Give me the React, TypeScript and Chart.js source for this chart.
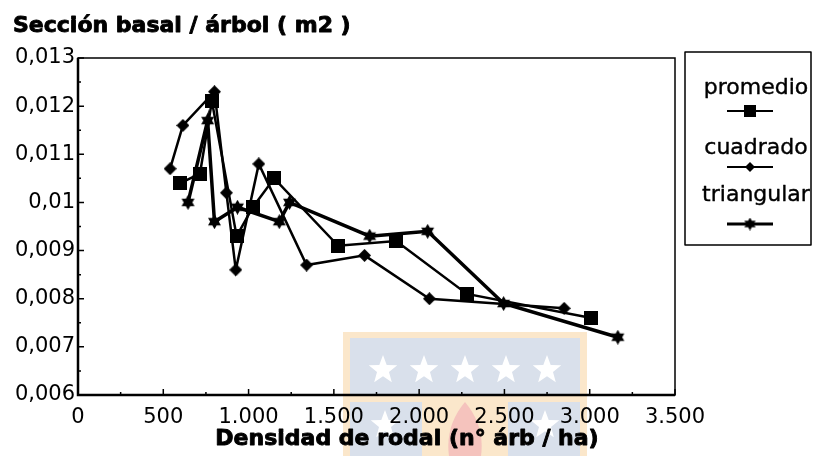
import React, { useEffect, useRef } from 'react';
import { Chart, registerables } from 'chart.js';

Chart.register(...registerables);

// ---------- data ----------
const titleText = 'Sección basal / árbol ( m2 )';
const xAxisTitle = 'Densidad de rodal (n° árb / ha)';
const seriesNames = ['promedio', 'cuadrado', 'triangular'];

const xTickValues = [0, 500, 1000, 1500, 2000, 2500, 3000, 3500];
const xTickLabels = ['0', '500', '1.000', '1.500', '2.000', '2.500', '3.000', '3.500'];
const xMinorValues = [250, 750, 1250, 1750, 2250, 2750, 3250];

const yTickValues = [0.006, 0.007, 0.008, 0.009, 0.01, 0.011, 0.012, 0.013];
const yTickLabels = ['0,006', '0,007', '0,008', '0,009', '0,01', '0,011', '0,012', '0,013'];
const yMinorValues = [0.0065, 0.0075, 0.0085, 0.0095, 0.0105, 0.0115, 0.0125];

const promedioX = [600, 715, 785, 930, 1025, 1150, 1525, 1865, 2280, 3010];
const promedioY = [0.0104, 0.0106, 0.0121, 0.0093, 0.0099, 0.0105, 0.0091, 0.0092, 0.0081, 0.0076];

const cuadradoX = [540, 615, 800, 870, 925, 1060, 1340, 1680, 2060, 2850];
const cuadradoY = [0.0107, 0.0116, 0.0123, 0.0102, 0.0086, 0.0108, 0.0087, 0.0089, 0.008, 0.0078];

const triangularX = [645, 760, 800, 935, 1180, 1240, 1710, 2050, 2495, 3165];
const triangularY = [0.01, 0.0117, 0.0096, 0.0099, 0.0096, 0.01, 0.0093, 0.0094, 0.0079, 0.0072];

// ---------- markers ----------
function makeMarker(kind: string, size: number): HTMLCanvasElement {
  const c = document.createElement('canvas');
  c.width = size;
  c.height = size;
  const g = c.getContext('2d')!;
  g.fillStyle = '#000';
  const h = size / 2;
  if (kind === 'square') {
    g.fillRect(0, 0, size, size);
  } else if (kind === 'diamond') {
    g.beginPath();
    g.moveTo(h, 0);
    g.lineTo(size, h);
    g.lineTo(h, size);
    g.lineTo(0, h);
    g.closePath();
    g.fill();
  } else {
    const R = h;
    const r = h * 0.58;
    g.beginPath();
    for (let k = 0; k < 12; k++) {
      const a = -Math.PI / 2 + (k * Math.PI) / 6;
      const rad = k % 2 === 0 ? R : r;
      const px = h + rad * Math.cos(a);
      const py = h + rad * Math.sin(a);
      if (k === 0) g.moveTo(px, py);
      else g.lineTo(px, py);
    }
    g.closePath();
    g.fill();
  }
  return c;
}

function star5(ctx: CanvasRenderingContext2D, cx: number, cy: number, R: number) {
  const r = R * 0.42;
  ctx.beginPath();
  for (let k = 0; k < 10; k++) {
    const a = -Math.PI / 2 + (k * Math.PI) / 5;
    const rad = k % 2 === 0 ? R : r;
    const px = cx + rad * Math.cos(a);
    const py = cy + rad * Math.sin(a);
    if (k === 0) ctx.moveTo(px, py);
    else ctx.lineTo(px, py);
  }
  ctx.closePath();
  ctx.fill();
}

export default function App() {
  const ref = useRef<HTMLCanvasElement | null>(null);

  useEffect(() => {
    document.body.style.margin = '0';
    const canvas = ref.current;
    if (!canvas) return;

    const sq = makeMarker('square', 14);
    const di = makeMarker('diamond', 13);
    const st = makeMarker('star', 15);
    const sqL = makeMarker('square', 12);
    const diL = makeMarker('diamond', 10);
    const stL = makeMarker('star', 13);

    const FONT = 'DejaVu Sans';

    const decor = {
      id: 'decor',
      beforeDraw(chart: any) {
        const ctx = chart.ctx as CanvasRenderingContext2D;
        ctx.save();
        // faint watermark behind the chart
        ctx.fillStyle = '#fbe7cb';
        ctx.fillRect(343, 332, 244, 130);
        ctx.fillStyle = '#d9e0eb';
        ctx.fillRect(350, 338, 230, 58);
        ctx.fillRect(350, 402, 72, 60);
        ctx.fillRect(508, 402, 72, 60);
        ctx.fillStyle = '#f5c3bd';
        ctx.beginPath();
        ctx.moveTo(465, 402);
        ctx.quadraticCurveTo(443, 428, 450, 462);
        ctx.lineTo(480, 462);
        ctx.quadraticCurveTo(487, 428, 465, 402);
        ctx.fill();
        ctx.fillStyle = '#ffffff';
        [383, 424, 465, 506, 547].forEach((cx) => star5(ctx, cx, 370, 15));
        star5(ctx, 385, 425, 15);
        star5(ctx, 545, 425, 15);
        ctx.restore();
      },
      afterDraw(chart: any) {
        const ctx = chart.ctx as CanvasRenderingContext2D;
        const { left, right, top, bottom } = chart.chartArea;
        const xs = chart.scales.x;
        const ys = chart.scales.y;
        ctx.save();
        ctx.strokeStyle = '#000';
        // frame
        ctx.lineWidth = 1.5;
        ctx.strokeRect(left, top, right - left, bottom - top);
        ctx.lineWidth = 2.5;
        ctx.beginPath();
        ctx.moveTo(left, top);
        ctx.lineTo(left, bottom);
        ctx.lineTo(right, bottom);
        ctx.stroke();
        // inward ticks
        ctx.lineWidth = 1.5;
        ctx.beginPath();
        xTickValues.forEach((v) => {
          const p = xs.getPixelForValue(v);
          ctx.moveTo(p, bottom);
          ctx.lineTo(p, bottom - 6);
        });
        xMinorValues.forEach((v) => {
          const p = xs.getPixelForValue(v);
          ctx.moveTo(p, bottom);
          ctx.lineTo(p, bottom - 3);
        });
        yTickValues.forEach((v) => {
          const p = ys.getPixelForValue(v);
          ctx.moveTo(left, p);
          ctx.lineTo(left + 6, p);
        });
        yMinorValues.forEach((v) => {
          const p = ys.getPixelForValue(v);
          ctx.moveTo(left, p);
          ctx.lineTo(left + 3, p);
        });
        ctx.stroke();

        // titles
        ctx.fillStyle = '#000';
        ctx.font = `bold 22px "${FONT}"`;
        ctx.lineWidth = 0.9;
        ctx.lineJoin = 'round';
        ctx.textBaseline = 'alphabetic';
        ctx.textAlign = 'left';
        ctx.fillText(titleText, 13, 32);
        ctx.strokeText(titleText, 13, 32);
        ctx.textAlign = 'center';
        ctx.fillText(xAxisTitle, 407, 445);
        ctx.strokeText(xAxisTitle, 407, 445);

        // legend
        const bx = 685, by = 52, bw = 126, bh = 193;
        ctx.lineWidth = 1.5;
        ctx.strokeRect(bx, by, bw, bh);
        ctx.font = `22px "${FONT}"`;
        ctx.textAlign = 'center';
        ctx.textBaseline = 'middle';
        const textY = [88, 148, 195];
        const markY = [111, 167, 224];
        const imgs = [sqL, diL, stL];
        const widths = [2, 2, 3];
        seriesNames.forEach((name, i) => {
          ctx.lineWidth = 0.4;
          ctx.fillText(name, 756, textY[i]);
          ctx.strokeText(name, 756, textY[i]);
          ctx.lineWidth = widths[i];
          ctx.beginPath();
          ctx.moveTo(727, markY[i]);
          ctx.lineTo(773, markY[i]);
          ctx.stroke();
          const im = imgs[i];
          ctx.drawImage(im, 750 - im.width / 2, markY[i] - im.height / 2);
        });
        ctx.restore();
      },
    };

    const mk = (xs: number[], ys: number[]) => xs.map((x, i) => ({ x, y: ys[i] }));

    const chart = new Chart(canvas, {
      type: 'scatter',
      data: {
        datasets: [
          {
            label: seriesNames[0],
            data: mk(promedioX, promedioY),
            showLine: true,
            borderColor: '#000',
            backgroundColor: '#000',
            borderWidth: 2.5,
            pointStyle: sq as any,
            pointRadius: 7,
          },
          {
            label: seriesNames[1],
            data: mk(cuadradoX, cuadradoY),
            showLine: true,
            borderColor: '#000',
            backgroundColor: '#000',
            borderWidth: 2.5,
            pointStyle: di as any,
            pointRadius: 7,
          },
          {
            label: seriesNames[2],
            data: mk(triangularX, triangularY),
            showLine: true,
            borderColor: '#000',
            backgroundColor: '#000',
            borderWidth: 3.5,
            pointStyle: st as any,
            pointRadius: 7,
          },
        ],
      },
      options: {
        responsive: false,
        animation: false,
        events: [],
        layout: { padding: { left: 0, right: 139, top: 58, bottom: 0 } },
        plugins: {
          legend: { display: false },
          tooltip: { enabled: false },
          title: { display: false },
        },
        scales: {
          x: {
            type: 'linear',
            min: 0,
            max: 3500,
            grid: { display: false, drawTicks: false },
            border: { display: false },
            afterBuildTicks: (s: any) => {
              s.ticks = xTickValues.map((v) => ({ value: v }));
            },
            afterFit: (s: any) => {
              s.height = 61;
            },
            ticks: {
              autoSkip: false,
              maxRotation: 0,
              padding: 10,
              color: '#000',
              font: { family: FONT, size: 21 },
              callback: (_v: any, i: number) => xTickLabels[i],
            },
          },
          y: {
            type: 'linear',
            min: 0.006,
            max: 0.013,
            grid: { display: false, drawTicks: false },
            border: { display: false },
            afterBuildTicks: (s: any) => {
              s.ticks = yTickValues.map((v) => ({ value: v }));
            },
            afterFit: (s: any) => {
              s.width = 78;
            },
            ticks: {
              autoSkip: false,
              padding: 3,
              color: '#000',
              font: { family: FONT, size: 21 },
              callback: (_v: any, i: number) => yTickLabels[i],
            },
          },
        },
      },
      plugins: [decor],
    });

    return () => chart.destroy();
  }, []);

  return (
    <div style={{ width: 814, height: 456 }}>
      <canvas ref={ref} width={814} height={456} style={{ display: 'block' }} />
    </div>
  );
}
